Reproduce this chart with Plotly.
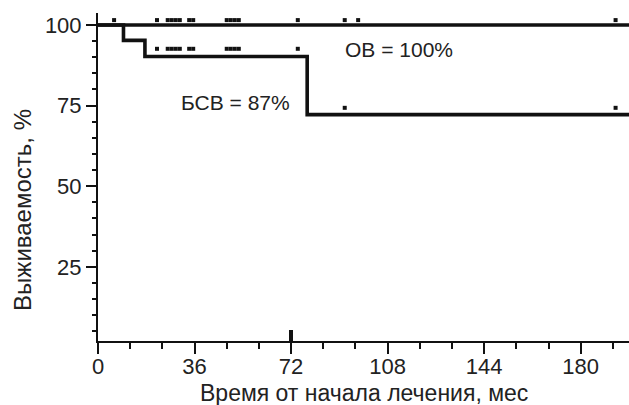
import plotly.graph_objects as go

# Kaplan–Meier step curves (months, survival %)
ob_months = [0, 198]
ob_surv = [100, 100]

bsv_months = [0, 9.5, 9.5, 17.5, 17.5, 78, 78, 198]
bsv_surv = [100, 100, 95.2, 95.2, 90.2, 90.2, 72.2, 72.2]

# Censored observations
ob_cens_months = [6, 22, 26, 27.5, 29, 30.5, 34, 35.5, 48, 49.5, 51, 52.5, 74.5, 92, 97, 193]
ob_cens_surv = [101.5] * len(ob_cens_months)

bsv_cens_months = [22, 26, 27.5, 29, 30.5, 34, 35.5, 48, 49.5, 51, 52.5, 74.5, 92, 193]
bsv_cens_surv = [92.6] * 12 + [74.3] * 2

# Event marker on the time axis
event_months = [72]
event_height = [3.5]

x_ticks = [0, 36, 72, 108, 144, 180]
y_ticks = [25, 50, 75, 100]

FONT = "Liberation Sans, Arial, sans-serif"
INK = "#111111"
TXT = "#222222"
Y_MIN, Y_MAX = 2, 103.7
X_MAX = 198

fig = go.Figure()

fig.add_trace(go.Bar(
    x=event_months, y=event_height, base=Y_MIN, width=1.6,
    marker=dict(color=INK, line=dict(width=0)), hoverinfo="skip",
))
fig.add_trace(go.Scatter(
    x=ob_months, y=ob_surv, mode="lines",
    line=dict(color=INK, width=3.6),
))
fig.add_trace(go.Scatter(
    x=bsv_months, y=bsv_surv, mode="lines",
    line=dict(color=INK, width=3.6),
))
fig.add_trace(go.Scatter(
    x=ob_cens_months, y=ob_cens_surv, mode="markers",
    marker=dict(symbol="square", size=4, color=INK),
))
fig.add_trace(go.Scatter(
    x=bsv_cens_months, y=bsv_cens_surv, mode="markers",
    marker=dict(symbol="square", size=4, color=INK),
))

# Curve labels
fig.add_annotation(x=91.3, y=92.3, xref="x", yref="y", xanchor="left", yanchor="middle",
                   text="ОВ = 100%", showarrow=False,
                   font=dict(family=FONT, size=21, color=TXT))
fig.add_annotation(x=72.5, y=76.1, xref="x", yref="y", xanchor="right", yanchor="middle",
                   text="БСВ = 87%", showarrow=False,
                   font=dict(family=FONT, size=21, color=TXT))
# Axis titles
fig.add_annotation(x=-0.141, y=0.40, xref="paper", yref="paper", textangle=-90,
                   xanchor="center", yanchor="middle",
                   text="Выживаемость, %", showarrow=False,
                   font=dict(family=FONT, size=24, color=TXT))
fig.add_annotation(x=0.5, y=-0.158, xref="paper", yref="paper",
                   xanchor="center", yanchor="middle",
                   text="Время от начала лечения, мес", showarrow=False,
                   font=dict(family=FONT, size=23, color=TXT))

fig.update_layout(
    width=629, height=405,
    margin=dict(l=98, r=0, t=13, b=64),
    plot_bgcolor="white", paper_bgcolor="white",
    showlegend=False, bargap=0,
    font=dict(family=FONT, size=22, color=TXT),
)
fig.update_xaxes(
    range=[0, X_MAX], tickvals=x_ticks, ticktext=[str(v) for v in x_ticks],
    showgrid=False, zeroline=False,
    showline=True, linecolor=INK, linewidth=2,
    ticks="outside", ticklen=11, tickwidth=2, tickcolor=INK,
    ticklabelstandoff=-6,
    minor=dict(dtick=12, tick0=0, ticks="outside", ticklen=6, tickwidth=2,
               tickcolor=INK, showgrid=False),
    tickfont=dict(family=FONT, size=22, color=TXT),
)
fig.update_yaxes(
    range=[Y_MIN, Y_MAX], tickvals=y_ticks, ticktext=[str(v) for v in y_ticks],
    showgrid=False, zeroline=False,
    showline=True, linecolor=INK, linewidth=2,
    ticks="outside", ticklen=10, tickwidth=2, tickcolor=INK,
    minor=dict(dtick=5, tick0=0, ticks="outside", ticklen=4, tickwidth=2,
               tickcolor=INK, showgrid=False),
    tickfont=dict(family=FONT, size=22, color=TXT),
)

fig.write_html("out.html")
